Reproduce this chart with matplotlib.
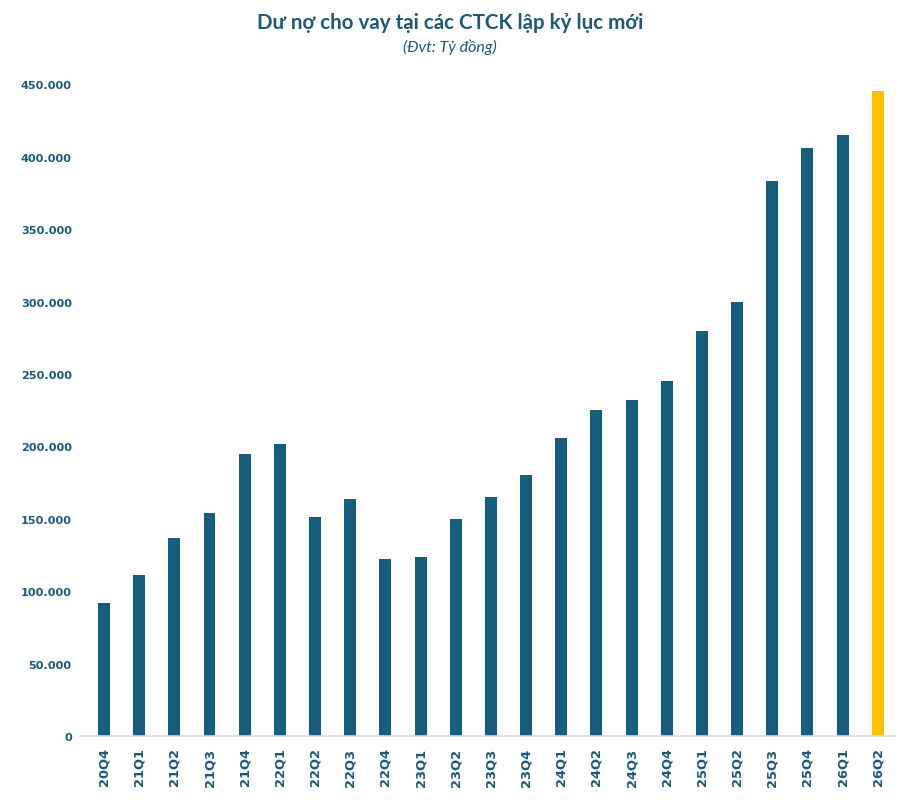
import numpy as np
import matplotlib
matplotlib.use("Agg")
import matplotlib.pyplot as plt
from matplotlib.ticker import FuncFormatter

# quy, du no cho vay (ty dong)
quarters = ["20Q4", "21Q1", "21Q2", "21Q3", "21Q4", "22Q1", "22Q2", "22Q3",
            "22Q4", "23Q1", "23Q2", "23Q3", "23Q4", "24Q1", "24Q2", "24Q3",
            "24Q4", "25Q1", "25Q2", "25Q3", "25Q4", "26Q1", "26Q2"]
loans = [92000, 111000, 137000, 154000, 195000, 202000, 151000, 164000,
         122000, 124000, 150000, 165000, 180000, 206000, 225000, 232000,
         245000, 280000, 300000, 383000, 406000, 415000, 445000]

BLUE = "#155E7D"
YELLOW = "#FFC000"
TXT = "#1D5A78"

colors = [BLUE] * (len(loans) - 1) + [YELLOW]

fig = plt.figure(figsize=(9, 8.04), dpi=100)
ax = fig.add_axes([0.089, 0.083, 0.905, 0.811])

x = np.arange(len(quarters))
ax.bar(x, loans, width=0.34, color=colors)

ax.set_xlim(-0.68, len(quarters) - 0.52)
ax.set_ylim(0, 450000)
ax.set_yticks(np.arange(0, 450001, 50000))
ax.yaxis.set_major_formatter(FuncFormatter(lambda v, p: f"{int(v):,}".replace(",", ".")))
ax.set_xticks(x)
ax.set_xticklabels(quarters, rotation=90)

for lbl in ax.get_yticklabels():
    lbl.set_fontweight("bold")
    lbl.set_color(TXT)
    lbl.set_fontsize(8.1)
for lbl in ax.get_xticklabels():
    lbl.set_fontweight("bold")
    lbl.set_color(TXT)
    lbl.set_fontsize(9.4)

ax.tick_params(axis="both", length=0)
ax.tick_params(axis="y", pad=6)
ax.tick_params(axis="x", pad=8)
for s in ["top", "right", "left"]:
    ax.spines[s].set_visible(False)
ax.spines["bottom"].set_color("#D9D9D9")
ax.spines["bottom"].set_linewidth(1.2)

fig.text(0.5, 0.972, "Dư nợ cho vay tại các CTCK lập kỷ lục mới", ha="center", va="center",
         fontsize=14.8, fontweight="bold", color=TXT, family="Lato")
fig.text(0.5, 0.941, "(Đvt: Tỷ đồng)", ha="center", va="center",
         fontsize=11.5, style="italic", color=TXT, family="Lato")

fig.savefig("out.png", dpi=100)
